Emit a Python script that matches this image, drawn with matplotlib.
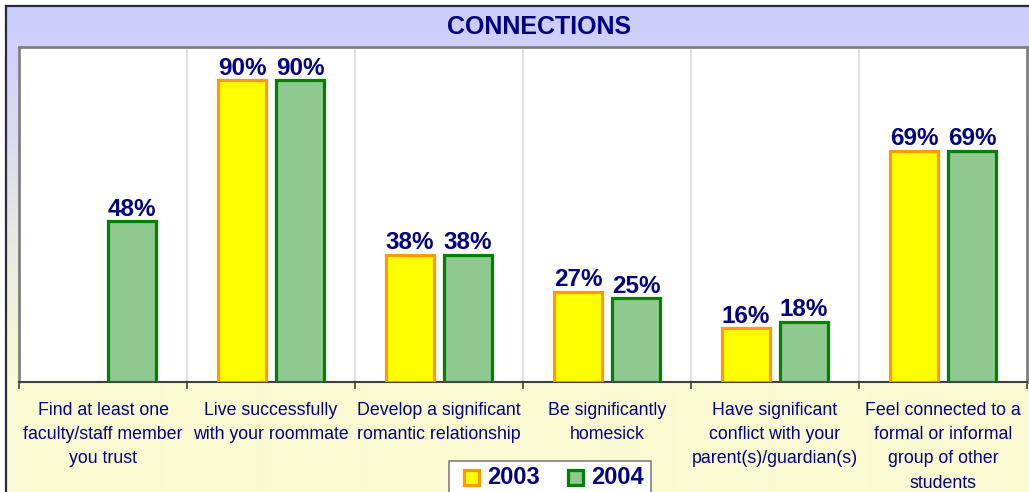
import matplotlib
matplotlib.use("Agg")
import matplotlib.pyplot as plt
import numpy as np
from matplotlib.patches import Rectangle
from matplotlib.lines import Line2D
from matplotlib.colors import to_rgb

plt.rcParams['font.family'] = ['Liberation Sans', 'DejaVu Sans']

categories = [
    "Find at least one\nfaculty/staff member\nyou trust",
    "Live successfully\nwith your roommate",
    "Develop a significant\nromantic relationship",
    "Be significantly\nhomesick",
    "Have significant\nconflict with your\nparent(s)/guardian(s)",
    "Feel connected to a\nformal or informal\ngroup of other\nstudents",
]
series_names = ["2003", "2004"]
values_2003 = [None, 90, 38, 27, 16, 69]
values_2004 = [48, 90, 38, 25, 18, 69]

NAVY = "#000080"
FILL = ["#FFFF00", "#8FC98F"]
EDGE = ["#FF9900", "#008000"]
W, H = 1029, 492
fig = plt.figure(figsize=(W / 100, H / 100), dpi=100)
fig.patch.set_facecolor("white")

# background gradient
bg = fig.add_axes([7 / W, 0, 1 - 7 / W, (H - 7) / H], zorder=-5)
top_c = np.array(to_rgb("#CCCCFF"))
bot_c = np.array(to_rgb("#FAFAD2"))
n = 485
t = np.clip(np.linspace(0, 1, n) / 0.78, 0, 1)[:, None]
grad = top_c[None, :] * (1 - t) + bot_c[None, :] * t
img = np.repeat(grad[:, None, :], 2, axis=1)
bg.imshow(img, aspect="auto", extent=[0, 1, 0, 1], interpolation="bilinear")
bg.set_xlim(0, 1)
bg.set_ylim(0, 1)
bg.axis("off")

# outer border
fig.add_artist(Line2D([6 / W, 6 / W], [0, (H - 6) / H], color="#2a2a3a", lw=1.6, transform=fig.transFigure))
fig.add_artist(Line2D([6 / W, 1], [(H - 6) / H, (H - 6) / H], color="#2a2a3a", lw=1.6, transform=fig.transFigure))

ax = fig.add_axes([19 / W, (H - 382) / H, (1027 - 19) / W, (382 - 47) / H])
ax.set_facecolor("white")

x = np.arange(len(categories))
bw = 0.286
off = 0.173
v03 = np.array([np.nan if v is None else v for v in values_2003], dtype=float)
v04 = np.array(values_2004, dtype=float)

ax.bar(x - off, v03, bw, color=FILL[0], edgecolor=EDGE[0], linewidth=2.3, zorder=3)
ax.bar(x + off, v04, bw, color=FILL[1], edgecolor=EDGE[1], linewidth=2.3, zorder=3)

for xs, vs in ((x - off, v03), (x + off, v04)):
    for xi, vi in zip(xs, vs):
        if np.isnan(vi):
            continue
        ax.annotate(f"{vi:.0f}%", (xi, vi), xytext=(0, 0.5), textcoords="offset points",
                    ha="center", va="bottom", fontsize=17.5, fontweight="bold", color=NAVY)

ax.set_xlim(-0.5, len(categories) - 0.5)
ax.set_ylim(0, 100)
ax.set_yticks([])

ax.set_xticks(x)
ax.set_xticklabels(categories, fontsize=12.8, color=NAVY, linespacing=1.55)
ax.tick_params(axis="x", which="major", length=0, pad=14.5)
bounds = np.arange(-0.5, len(categories), 1.0)
ax.set_xticks(bounds, minor=True)
ax.tick_params(axis="x", which="minor", length=5, width=1.2, color="#404040", direction="out")
for b in bounds[1:-1]:
    ax.axvline(b, color="#D9D9D9", lw=1.2, zorder=1)

for s in ("top", "left", "right"):
    ax.spines[s].set_color("#808080")
    ax.spines[s].set_linewidth(2)
ax.spines["bottom"].set_color("#404040")
ax.spines["bottom"].set_linewidth(1.5)

fig.text(539 / W, (H - 27) / H, "CONNECTIONS", ha="center", va="center",
         fontsize=18, fontweight="bold", color=NAVY)

# legend (drawn manually in pixel coordinates, y measured from top)
def fx(px):
    return px / W

def fy(py):
    return (H - py) / H

fig.add_artist(Rectangle((fx(449), fy(500)), fx(651) - fx(449), fy(461) - fy(500),
                         transform=fig.transFigure, facecolor="white", edgecolor="#808080",
                         linewidth=1.2, zorder=10))
for i, name in enumerate(series_names):
    mx = 464 + i * 104
    fig.add_artist(Rectangle((fx(mx), fy(485)), fx(15) - fx(0), fy(470) - fy(485),
                             transform=fig.transFigure, facecolor=FILL[i], edgecolor=EDGE[i],
                             linewidth=2.3, zorder=11))
    fig.text(fx(mx + 23), fy(478), name, ha="left", va="center", fontsize=17,
             fontweight="bold", color=NAVY, zorder=12)

fig.savefig("out.png", dpi=100)
